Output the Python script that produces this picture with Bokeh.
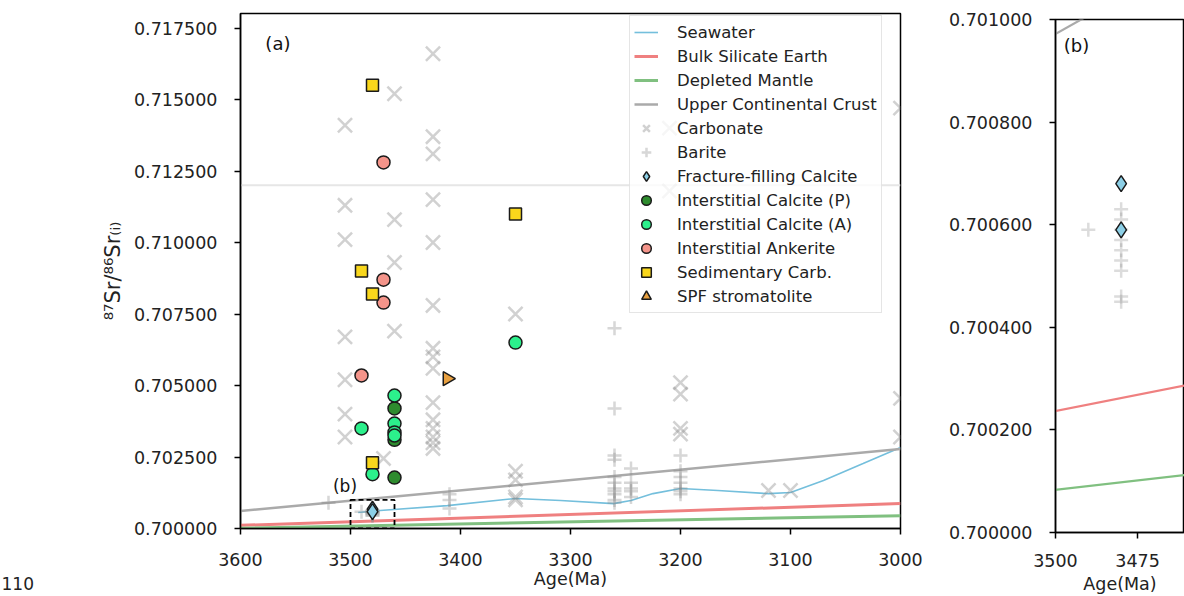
import math
from bokeh.plotting import figure
from bokeh.models import Range1d, FixedTicker, PrintfTickFormatter
from bokeh.layouts import row, column
from bokeh.embed import file_html
from bokeh.resources import INLINE
from bokeh.core.properties import value

FONT = "DejaVu Sans"

# ---------------- data ----------------
seawater_age = [3493, 3473, 3412, 3350, 3309, 3261, 3245, 3225, 3200, 3166, 3120, 3100, 3070, 3034, 3000]
seawater_val = [0.70056, 0.70063, 0.70080, 0.70105, 0.70098, 0.70087, 0.70098, 0.70122, 0.70140,
                0.70133, 0.70122, 0.70126, 0.70168, 0.70227, 0.70283]

bse_age = [3600, 3000]
bse_val = [0.70011, 0.70087]
dm_age = [3600, 3000]
dm_val = [0.70001, 0.70045]
ucc_age = [3600, 3000]
ucc_val = [0.70061, 0.70278]
ucc_modern = 0.712

carb_age = [3505, 3505, 3505, 3505, 3505, 3505, 3505,
            3460, 3460, 3460, 3460, 3470,
            3425, 3425, 3425, 3425, 3425, 3425, 3425, 3425, 3425, 3425, 3425, 3425, 3425, 3425, 3425,
            3350, 3350, 3350, 3350, 3350,
            3210, 3210,
            3200, 3200, 3200, 3200,
            3120, 3100,
            3000, 3000, 3000]
carb_val = [0.7141, 0.7113, 0.7101, 0.7067, 0.7052, 0.7040, 0.7032,
            0.7152, 0.7108, 0.7093, 0.7069, 0.70245,
            0.7166, 0.7137, 0.7131, 0.7115, 0.7100, 0.7078, 0.7063, 0.7060, 0.7056, 0.7044, 0.7038,
            0.7035, 0.7032, 0.7030, 0.7028,
            0.7075, 0.7020, 0.7017, 0.7011, 0.7010,
            0.7140, 0.7118,
            0.7051, 0.7047, 0.7035, 0.7033,
            0.70133, 0.70133,
            0.7147, 0.70455, 0.7032]

barite_age = [3520, 3490,
              3480, 3480, 3480, 3480, 3480, 3480, 3480, 3480, 3480,
              3410, 3410, 3410,
              3260, 3260, 3260, 3260, 3260, 3260, 3260, 3260, 3260, 3260, 3260,
              3245, 3245, 3245, 3245, 3245,
              3200, 3200, 3200, 3200, 3200, 3200, 3200]
barite_val = [0.7009, 0.70059,
              0.70063, 0.70061, 0.70059, 0.70057, 0.70055, 0.70053, 0.70051, 0.70046, 0.70045,
              0.7012, 0.7010, 0.7007,
              0.7070, 0.7042, 0.70255, 0.7024, 0.7018, 0.7016, 0.7014, 0.7013, 0.7012, 0.7010, 0.7009,
              0.7021, 0.7016, 0.7014, 0.7013, 0.7011,
              0.70255, 0.7020, 0.7018, 0.7016, 0.7014, 0.7013, 0.7012]

ffc_age = [3480, 3480]
ffc_val = [0.70068, 0.70059]

calcP_age = [3460, 3460, 3460]
calcP_val = [0.7042, 0.7031, 0.70178]

calcA_age = [3460, 3460, 3460, 3460, 3490, 3480, 3350]
calcA_val = [0.70465, 0.70367, 0.70336, 0.70325, 0.7035, 0.7019, 0.7065]

ank_age = [3470, 3470, 3470, 3490]
ank_val = [0.7128, 0.7087, 0.7079, 0.70535]

sed_age = [3480, 3490, 3480, 3480, 3350]
sed_val = [0.7155, 0.7090, 0.7082, 0.7023, 0.7110]

spf_age = [3412]
spf_val = [0.70524]

yticks_a = [0.7 + 0.0025 * i for i in range(8)]
xticks_a = [3600, 3500, 3400, 3300, 3200, 3100, 3000]
yticks_b = [0.7000, 0.7002, 0.7004, 0.7006, 0.7008, 0.7010]
xticks_b = [3500, 3475, 3450]

page_number = "110"

# zoom box (region of panel b)
box_left, box_right, box_bottom, box_top = 3500, 3460, 0.7000, 0.7010

# ---------------- styles ----------------
C_SEA = "#74bfdc"
C_BSE = "#ef8080"
C_DM = "#80c080"
C_UCC = "#aaaaaa"
C_GREY = "#8c8c8c"
C_FFC = "#8ccfe6"
C_P = "#2e8b2e"
C_A = "#2cf08c"
C_ANK = "#f4948a"
C_SED = "#f9d71c"
C_SPF = "#e8a040"
EDGE = "#1a1a1a"
TXT = "#222222"


def style_axes(p, xticks, yticks):
    p.outline_line_color = "black"
    p.outline_line_width = 1.5
    p.xgrid.visible = False
    p.ygrid.visible = False
    for ax in (p.xaxis[0], p.yaxis[0]):
        ax.axis_line_width = 1.5
        ax.axis_line_color = "black"
        ax.major_tick_line_width = 1.5
        ax.major_tick_out = 6
        ax.major_tick_in = 0
        ax.minor_tick_out = 0
        ax.minor_tick_in = 0
        ax.major_label_text_font = FONT
        ax.major_label_text_font_size = "17.5px"
        ax.major_label_text_color = TXT
        ax.axis_label_text_font = FONT
        ax.axis_label_text_font_size = "17.5px"
        ax.axis_label_text_font_style = "normal"
        ax.axis_label_text_color = TXT
    p.xaxis[0].ticker = FixedTicker(ticks=xticks)
    p.yaxis[0].ticker = FixedTicker(ticks=yticks)
    p.yaxis[0].formatter = PrintfTickFormatter(format="%.6f")
    p.yaxis[0].major_label_standoff = 17
    p.yaxis[0].axis_label_standoff = 6


# ---------------- page number strip ----------------
p0 = figure(width=40, height=596, x_range=Range1d(0, 40), y_range=Range1d(0, 596), title=None,
            x_axis_type=None, y_axis_type=None, output_backend="svg", toolbar_location=None,
            min_border=0)
p0.outline_line_color = None
p0.text(x=[1], y=[13], text=[page_number], text_font=value(FONT), text_font_size="17px",
        text_align="left", text_baseline="middle", text_color=TXT)

# ---------------- panel (a) ----------------
pa = figure(width=890, height=596, x_range=Range1d(3600, 3000), y_range=Range1d(0.7, 0.718007), title=None,
            output_backend="svg", toolbar_location=None,
            min_border_left=200, min_border_right=30, min_border_top=13, min_border_bottom=68)
style_axes(pa, xticks_a, yticks_a)
pa.xaxis[0].major_label_standoff = 18
pa.xaxis[0].axis_label_standoff = 0
pa.xaxis[0].axis_label = "Age(Ma)"
pa.yaxis[0].axis_label = "\u2078\u2077Sr/\u2078\u2076Sr\u208d\u1d62\u208e"
pa.yaxis[0].axis_label_text_font_size = "21px"

pa.line([3600, 3000], [ucc_modern, ucc_modern], line_color="#e6e6e6", line_width=2)

pa.line(seawater_age, seawater_val, line_color=C_SEA, line_width=1.6, legend_label="Seawater")
pa.line(bse_age, bse_val, line_color=C_BSE, line_width=3, legend_label="Bulk Silicate Earth")
pa.line(dm_age, dm_val, line_color=C_DM, line_width=3, legend_label="Depleted Mantle")
pa.line(ucc_age, ucc_val, line_color=C_UCC, line_width=2.5, legend_label="Upper Continental Crust")
pa.scatter(carb_age, carb_val, marker="x", size=20, line_width=2.5, line_color=C_GREY, line_alpha=0.4,
           legend_label="Carbonate")
pa.scatter(barite_age, barite_val, marker="cross", size=14, line_width=2.5, line_color=C_GREY, line_alpha=0.35,
           legend_label="Barite")
pa.scatter(ffc_age, ffc_val, marker="diamond", size=16, fill_color=C_FFC, line_color=EDGE, line_width=1.5,
           legend_label="Fracture-filling Calcite")
pa.scatter(calcP_age, calcP_val, marker="circle", size=13, fill_color=C_P, line_color=EDGE, line_width=1.5,
           legend_label="Interstitial Calcite (P)")
pa.scatter(calcA_age, calcA_val, marker="circle", size=13, fill_color=C_A, line_color=EDGE, line_width=1.5,
           legend_label="Interstitial Calcite (A)")
pa.scatter(ank_age, ank_val, marker="circle", size=13, fill_color=C_ANK, line_color=EDGE, line_width=1.5,
           legend_label="Interstitial Ankerite")
pa.scatter(sed_age, sed_val, marker="square", size=12, fill_color=C_SED, line_color=EDGE, line_width=1.5,
           legend_label="Sedimentary Carb.")
pa.scatter(spf_age, spf_val, marker="triangle", size=14, angle=-math.pi / 2, fill_color=C_SPF,
           line_color=EDGE, line_width=1.5, legend_label="SPF stromatolite")

pa.quad(left=[box_left], right=[box_right], bottom=[box_bottom], top=[box_top],
        fill_alpha=0, line_color="black", line_width=1.8, line_dash="5 3")

pa.text(x=[3505], y=[0.7015], text=["(b)"], text_font=value(FONT), text_font_size="17px",
        text_align="center", text_baseline="middle", text_color="#111111")
pa.text(x=[3566], y=[0.71696], text=["(a)"], text_font=value(FONT), text_font_size="18px",
        text_align="center", text_baseline="middle", text_color="#111111")

lg = pa.legend[0]
lg.location = (389, 215)
lg.margin = 0
lg.padding = 4
lg.spacing = 0
lg.glyph_width = 24
lg.glyph_height = 24
lg.label_height = 24
lg.label_standoff = 19
lg.label_text_font = FONT
lg.label_text_font_size = "16.5px"
lg.label_text_color = TXT
lg.border_line_color = "#cccccc"
lg.border_line_width = 1
lg.background_fill_alpha = 0.8

# ---------------- panel (b) ----------------
pb = figure(width=254, height=596, x_range=Range1d(3500, 3460.7), y_range=Range1d(0.7, 0.701), title=None,
            output_backend="svg", toolbar_location=None,
            min_border_left=125, min_border_right=0, min_border_top=19, min_border_bottom=64)
style_axes(pb, xticks_b, yticks_b)
pb.xaxis[0].major_label_standoff = 15
pb.xaxis[0].axis_label_standoff = 4
pb.xaxis[0].axis_label = "Age(Ma)"

pb.line(bse_age, bse_val, line_color=C_BSE, line_width=2.2)
pb.line(dm_age, dm_val, line_color=C_DM, line_width=2.2)
pb.line(ucc_age, ucc_val, line_color=C_UCC, line_width=2.2)
pb.scatter(barite_age, barite_val, marker="cross", size=14, line_width=2.5, line_color=C_GREY, line_alpha=0.3)
pb.scatter(ffc_age, ffc_val, marker="diamond", size=16, fill_color=C_FFC, line_color=EDGE, line_width=1.5)
pb.text(x=[3493.6], y=[0.70095], text=["(b)"], text_font=value(FONT), text_font_size="18px",
        text_align="center", text_baseline="middle", text_color="#111111")

layout = row(column(p0), column(pa), column(pb))
open("out.html", "w").write(file_html(layout, INLINE))
